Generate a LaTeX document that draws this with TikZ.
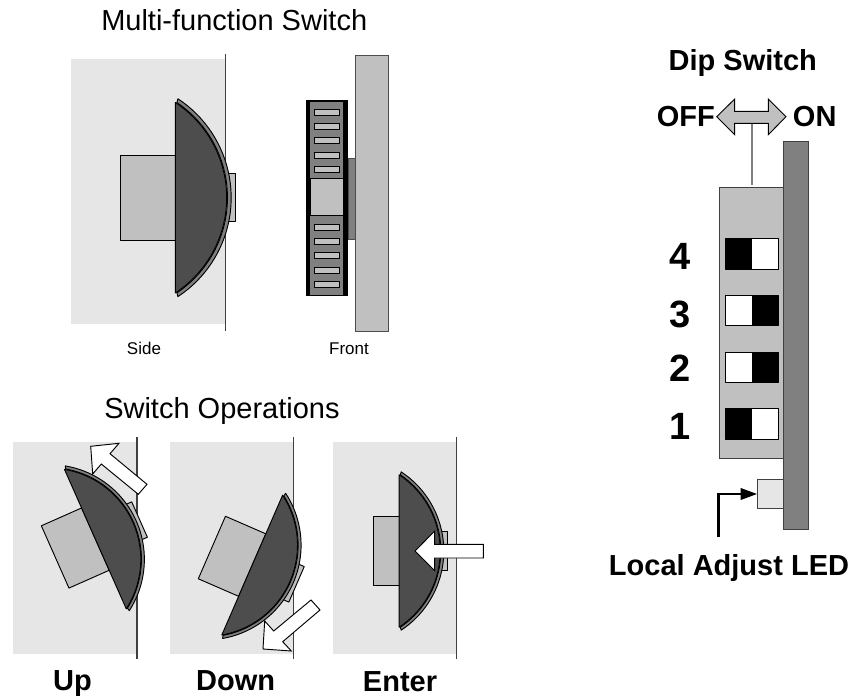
\documentclass[tikz,border=0pt]{standalone}
\usepackage{fontspec}
\setmainfont{Liberation Sans}
\usetikzlibrary{arrows.meta}
\definecolor{bgg}{HTML}{E6E6E6}
\definecolor{lig}{HTML}{C0C0C0}
\definecolor{mid}{HTML}{808080}
\definecolor{dar}{HTML}{4D4D4D}
\newcommand{\px}[1]{\fontsize{\dimexpr#1pt*3/4\relax}{\dimexpr#1pt\relax}\selectfont}
\tikzset{
  edge/.style={draw=black,line width=0.7pt,line join=round},
  bgpanel/.style={fill=bgg,draw=none},
  wallline/.style={draw=black!75,line width=0.8pt},
  whitearrow/.style={fill=white,draw=black,line width=0.7pt,line join=miter},
  lbl/.style={inner sep=0pt,anchor=base,text=black},
  thin label/.style={lbl,font=\px{29}},
  small label/.style={lbl,font=\px{17}},
  bold label/.style={lbl,font=\px{29}\bfseries},
  digit label/.style={lbl,font=\px{38}\bfseries},
}
% #1 = transform, #2 = stem far edge (local x), #3 = scale
\newcommand{\swt}[3]{%
\begin{scope}[#1]
  \path[edge,fill=lig] (#2*#3,-42.6*#3) rectangle (62.6*#3,42.6*#3);
  \path[edge,fill=lig] (115.3*#3,-24.2*#3) rectangle (123*#3,24.2*#3);
  \path[edge,fill=mid] plot[samples=40,domain=-56.6:56.6] ({118.5*#3*cos(\x)},{118.5*#3*sin(\x)})
     -- ({64.4*#3},{96*#3}) -- plot[samples=40,domain=56:-56] ({114.8*#3*cos(\x)},{114.8*#3*sin(\x)}) -- ({64.4*#3},{-96*#3}) -- cycle;
  \path[edge,fill=dar] plot[samples=40,domain=-56.7:56.7] ({114*#3*cos(\x)},{114*#3*sin(\x)}) -- cycle;
\end{scope}}
\begin{document}
\begin{tikzpicture}[x=0.75pt,y=-0.75pt]
\useasboundingbox (0,0) rectangle (853,699);
% Titles
\node[thin label,anchor=base west] (t1) at (101,31) {Multi-function Switch};
\node[thin label,anchor=base west] (t2) at (104,418.3) {Switch Operations};
\node[small label] (side) at (144,354) {Side};
\node[small label] (front) at (349,354) {Front};
% Main side view
\path[bgpanel] (71,59) rectangle (225.3,324);
\draw[wallline] (225.3,54) -- (225.3,331);
\swt{shift={(112.7,197.7)}}{7.6}{1}
% Front view
\path[draw=black!70,line width=0.8pt,fill=lig] (355.3,55.3) rectangle (388.3,331.3);
\path[draw=black!70,line width=0.6pt,fill=mid] (348,158.7) rectangle (355.3,239.3);
\path[fill=black] (305.7,100.3) rectangle (348,296);
\path[fill=mid] (310.3,102) rectangle (343.3,178.3);
\path[fill=mid] (310.3,215.3) rectangle (343.3,294.5);
\path[edge,fill=lig] (310.3,178.3) rectangle (343.3,215.3);
\foreach \c in {112.3,126.7,140.8,155.3,169.7,227,241.3,255.7,270,284.3}{
  \path[edge,fill=lig] (314.3,\c-3) rectangle (339.3,\c+3);
}
% Up
\path[bgpanel] (13,442) rectangle (137,653.7);
\draw[wallline] (137,437) -- (137,659);
\path[whitearrow] (90.7,446.3) -- (119,443.3) -- (110,453.7) -- (147,484.3) -- (138.3,494.3) -- (101.3,464) -- (92.7,474) -- cycle;
\swt{shift={(49.6,559.4)},rotate=23.9}{7.6}{0.8}
% Down
\path[bgpanel] (170,442) rectangle (293.7,653.7);
\draw[wallline] (293.7,437) -- (293.7,659);
\swt{shift={(206.3,545.1)},rotate=-23.5}{7.6}{0.8}
\path[whitearrow] (264.7,621) -- (273.7,631) -- (311,600) -- (320,610) -- (282.7,641.7) -- (291.3,651) -- (263,649) -- cycle;
% Enter
\path[bgpanel] (333,442) rectangle (456.7,653.7);
\draw[wallline] (456.7,437) -- (456.7,659);
\swt{shift={(349,551)}}{30.4}{0.8}
\path[whitearrow] (415,551) -- (434.7,531) -- (434.7,544.3) -- (483.3,544.3) -- (483.3,558) -- (434.7,558) -- (434.7,570.7) -- cycle;
\node[bold label] (up) at (72.5,690.7) {Up};
\node[bold label] (down) at (235.7,690.7) {Down};
\node[bold label] (enter) at (400,691.7) {Enter};
% Dip switch
\node[bold label] (dip) at (742.8,70.7) {Dip Switch};
\node[bold label,anchor=base east] (off) at (715,126.7) {OFF};
\node[bold label,anchor=base west] (on) at (792.7,126.7) {ON};
\node[inner sep=0pt,minimum size=0pt] (stemtop) at (752,123.3) {};
\node[inner sep=0pt,minimum size=0pt] (stembot) at (752,185) {};
\draw[draw=mid,line width=0.9pt] (stemtop) -- (stembot);
\path[draw=black,line width=0.7pt,fill=lig] (716.7,116.7) -- (734.7,99) -- (734.7,111.3) -- (768.3,111.3) -- (768.3,99) -- (786,116.7) -- (768.3,134.7) -- (768.3,123.3) -- (734.7,123.3) -- (734.7,134.7) -- cycle;
\path[draw=black!75,line width=0.8pt,fill=lig] (719.7,187.7) rectangle (783.7,458.3);
\path[draw=black!75,line width=0.8pt,fill=mid] (783.7,141.3) rectangle (808.7,529.3);
\newcommand{\dipsw}[3]{%
  \path[fill=#2] (725,#1) rectangle (752,#1+30.7);
  \path[fill=#3] (752,#1) rectangle (778.3,#1+30.7);
  \path[edge] (725,#1) rectangle (778.3,#1+30.7);}
\dipsw{238.3}{black}{white}
\dipsw{295}{white}{black}
\dipsw{352}{white}{black}
\dipsw{408.7}{black}{white}
\node[digit label] (d4) at (680.5,269.3) {4};
\node[digit label] (d3) at (680.5,327) {3};
\node[digit label] (d2) at (680.5,381.7) {2};
\node[digit label] (d1) at (680.5,439.3) {1};
\node[draw=black!75,line width=0.7pt,fill=bgg,inner sep=0pt,minimum width=19.5pt,minimum height=22pt] (led) at (770.7,494) {};
\coordinate (ledend) at (718.7,536.7);
\draw[line width=2pt,-{Triangle[length=12.5pt,width=8.5pt]}] (ledend) |- (led.west);
\node[bold label] (ledl) at (729,575.7) {Local Adjust LED};
\end{tikzpicture}
\end{document}
